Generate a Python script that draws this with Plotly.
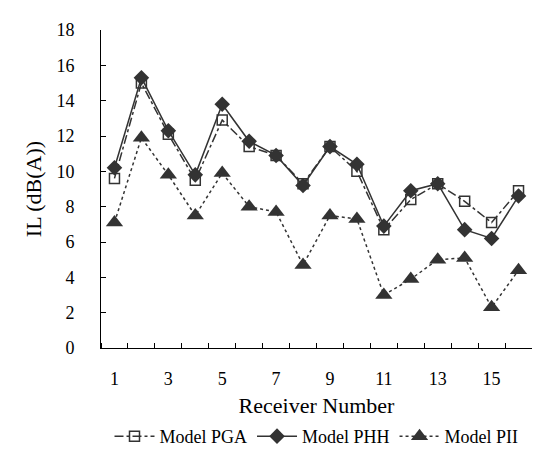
import plotly.graph_objects as go

receivers = list(range(1, 17))
pga = [9.6, 15.0, 12.1, 9.5, 12.9, 11.4, 10.9, 9.3, 11.4, 10.0, 6.7, 8.4, 9.3, 8.3, 7.1, 8.9]
phh = [10.2, 15.3, 12.3, 9.8, 13.8, 11.7, 10.9, 9.2, 11.4, 10.4, 6.9, 8.9, 9.3, 6.7, 6.2, 8.6]
pii = [7.1, 11.9, 9.8, 7.5, 9.9, 8.0, 7.7, 4.7, 7.5, 7.3, 3.0, 3.9, 5.0, 5.1, 2.3, 4.4]
x_tick_labels = [1, 3, 5, 7, 9, 11, 13, 15]
y_ticks = list(range(0, 19, 2))

dark = "#333333"
font = "Liberation Serif, Times New Roman, serif"

fig = go.Figure()
fig.add_trace(go.Scatter(
    x=receivers, y=pga, name="Model PGA", mode="lines+markers",
    line=dict(color=dark, width=1.5, dash="dashdot"),
    marker=dict(symbol="square-open", size=10, color=dark, line=dict(width=1.5, color=dark)),
))
fig.add_trace(go.Scatter(
    x=receivers, y=phh, name="Model PHH", mode="lines+markers",
    line=dict(color=dark, width=1.5, dash="solid"),
    marker=dict(symbol="diamond", size=12, color=dark),
))
fig.add_trace(go.Scatter(
    x=receivers, y=pii, name="Model PII", mode="lines+markers",
    line=dict(color=dark, width=1.5, dash="dot"),
    marker=dict(symbol="triangle-up", size=15, color=dark),
))

fig.update_layout(
    width=540, height=459,
    margin=dict(l=93, r=16, t=18, b=109),
    plot_bgcolor="white", paper_bgcolor="white",
    font=dict(family=font, size=18, color="black"),
    showlegend=True,
    legend=dict(orientation="h", x=0.5, xanchor="center", y=-0.22, yanchor="top",
                font=dict(size=18), itemwidth=40, tracegroupgap=0),
)
fig.update_xaxes(
    range=[0.5, 16.5], tickmode="array", tickvals=x_tick_labels,
    ticktext=[str(v) for v in x_tick_labels], ticks="", showgrid=False, zeroline=False,
    showline=True, linecolor="black", linewidth=1,
    minor=dict(tickmode="linear", tick0=0.5, dtick=1, ticks="inside", ticklen=5,
               tickcolor="black", showgrid=False),
    title=dict(text="Receiver Number", standoff=10),
    ticklabelstandoff=14,
)
fig.update_yaxes(
    range=[0, 18], tickmode="array", tickvals=y_ticks, ticks="inside", ticklen=5,
    tickcolor="black", showgrid=False, zeroline=False,
    showline=True, linecolor="black", linewidth=1,
    title=dict(text="IL (dB(A))", standoff=8),
    ticklabelstandoff=22,
)
fig.write_html("out.html")
